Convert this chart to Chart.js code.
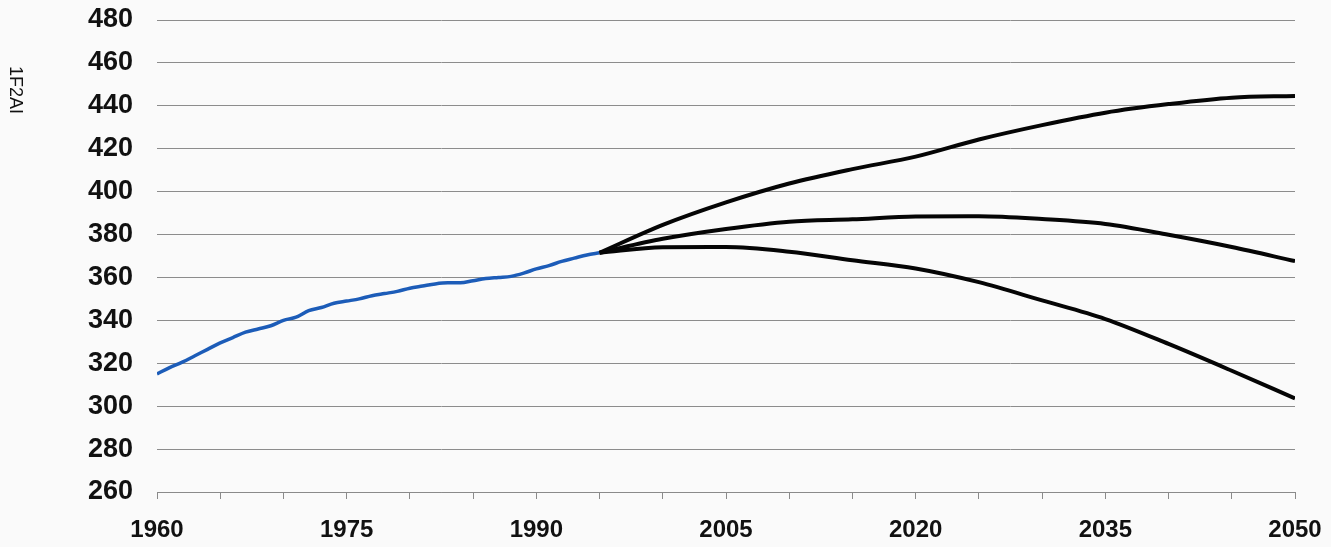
<!DOCTYPE html>
<html>
<head>
<meta charset="utf-8">
<title>CO2 scenarios</title>
<script src="https://cdn.jsdelivr.net/npm/chart.js@4.4.1/dist/chart.umd.min.js"></script>
<style>
  html, body { margin: 0; padding: 0; background: #fafafa; }
  #wrap { width: 1331px; height: 547px; position: relative; }
</style>
</head>
<body>
<div id="wrap"><canvas id="co2Chart"></canvas></div>
<script>
// observed record (blue)
const observedYears = [1960, 1961, 1962, 1963, 1964, 1965, 1966, 1967, 1968, 1969,
  1970, 1971, 1972, 1973, 1974, 1975, 1976, 1977, 1978, 1979,
  1980, 1981, 1982, 1983, 1984, 1985, 1986, 1987, 1988, 1989,
  1990, 1991, 1992, 1993, 1994, 1995];
const observedValues = [315, 318, 320.5, 323.5, 326.5, 329.5, 332, 334.5, 336, 337.5,
  340, 341.5, 344.5, 346, 348, 349, 350, 351.5, 352.5, 353.5,
  355, 356, 357, 357.5, 357.5, 358.5, 359.5, 360, 360.5, 362,
  364, 365.5, 367.5, 369, 370.5, 371.5];

// projections (black)
const projectionYears = [1995, 2000, 2005, 2010, 2015, 2020, 2025, 2030, 2035, 2040, 2045, 2050];
const highScenario = [371.5, 384.5, 395, 403.8, 410.5, 416.3, 424.3, 431, 436.8, 440.8, 443.8, 444.6];
const midScenario  = [371.5, 378, 382.6, 386, 387.1, 388.4, 388.5, 387.2, 384.9, 379.9, 374.2, 367.6];
const lowScenario  = [371.5, 374.1, 374.2, 372, 368, 364.2, 357.8, 349.3, 340.6, 329, 316.5, 303.6];

// axis
const tickYears = [1960, 1965, 1970, 1975, 1980, 1985, 1990, 1995, 2000, 2005,
  2010, 2015, 2020, 2025, 2030, 2035, 2040, 2045, 2050];
const labelYears = [1960, 1975, 1990, 2005, 2020, 2035, 2050];
const yTitle = '1F2AI';

const toPoints = (xs, ys) => xs.map((x, i) => ({ x: x, y: ys[i] }));

// y title reads top-to-bottom, so draw it by hand
const sideTitle = {
  id: 'sideTitle',
  afterDraw(chart) {
    const ctx = chart.ctx;
    ctx.save();
    ctx.translate(15, 90);
    ctx.rotate(Math.PI / 2);
    ctx.font = '18px "Liberation Sans", Arial, sans-serif';
    ctx.fillStyle = '#111';
    ctx.textAlign = 'center';
    ctx.textBaseline = 'middle';
    ctx.fillText(yTitle, 0, 0);
    ctx.restore();
  }
};

const fontFamily = '"Liberation Sans", Arial, sans-serif';

const lineStyle = (color, width) => ({
  borderColor: color,
  borderWidth: width,
  pointRadius: 0,
  fill: false,
  cubicInterpolationMode: 'monotone'
});

new Chart(document.getElementById('co2Chart').getContext('2d'), {
  type: 'line',
  data: {
    datasets: [
      Object.assign({ label: 'high', data: toPoints(projectionYears, highScenario) }, lineStyle('#050505', 4)),
      Object.assign({ label: 'mid', data: toPoints(projectionYears, midScenario) }, lineStyle('#050505', 4)),
      Object.assign({ label: 'low', data: toPoints(projectionYears, lowScenario) }, lineStyle('#050505', 4)),
      Object.assign({ label: 'observed', data: toPoints(observedYears, observedValues) }, lineStyle('#1c5cb8', 3.5))
    ]
  },
  options: {
    responsive: true,
    maintainAspectRatio: false,
    animation: false,
    layout: { padding: { top: 20, right: 36, left: 0, bottom: 0 } },
    plugins: {
      legend: { display: false },
      tooltip: { enabled: false }
    },
    scales: {
      x: {
        type: 'linear',
        min: 1960,
        max: 2050,
        afterFit: s => { s.height = 55; s.paddingLeft = 0; s.paddingRight = 0; },
        afterBuildTicks: s => { s.ticks = tickYears.map(v => ({ value: v })); },
        ticks: {
          autoSkip: false,
          maxRotation: 0,
          padding: 17,
          color: '#111',
          font: { family: fontFamily, size: 24, weight: 'bold' },
          callback: v => labelYears.includes(v) ? String(v) : ''
        },
        grid: { drawOnChartArea: false, drawTicks: true, tickLength: 7, color: '#8a8a8a', lineWidth: 1 },
        border: { display: true, color: '#8a8a8a', width: 1 }
      },
      y: {
        min: 260,
        max: 480,
        afterFit: s => { s.width = 157; s.paddingTop = 0; s.paddingBottom = 0; },
        ticks: { stepSize: 20, padding: 24, color: '#111', font: { family: fontFamily, size: 27, weight: 'bold' } },
        grid: { drawTicks: false, color: '#8c8c8c', lineWidth: 1 },
        border: { display: false }
      }
    }
  },
  plugins: [sideTitle]
});
</script>
</body>
</html>
